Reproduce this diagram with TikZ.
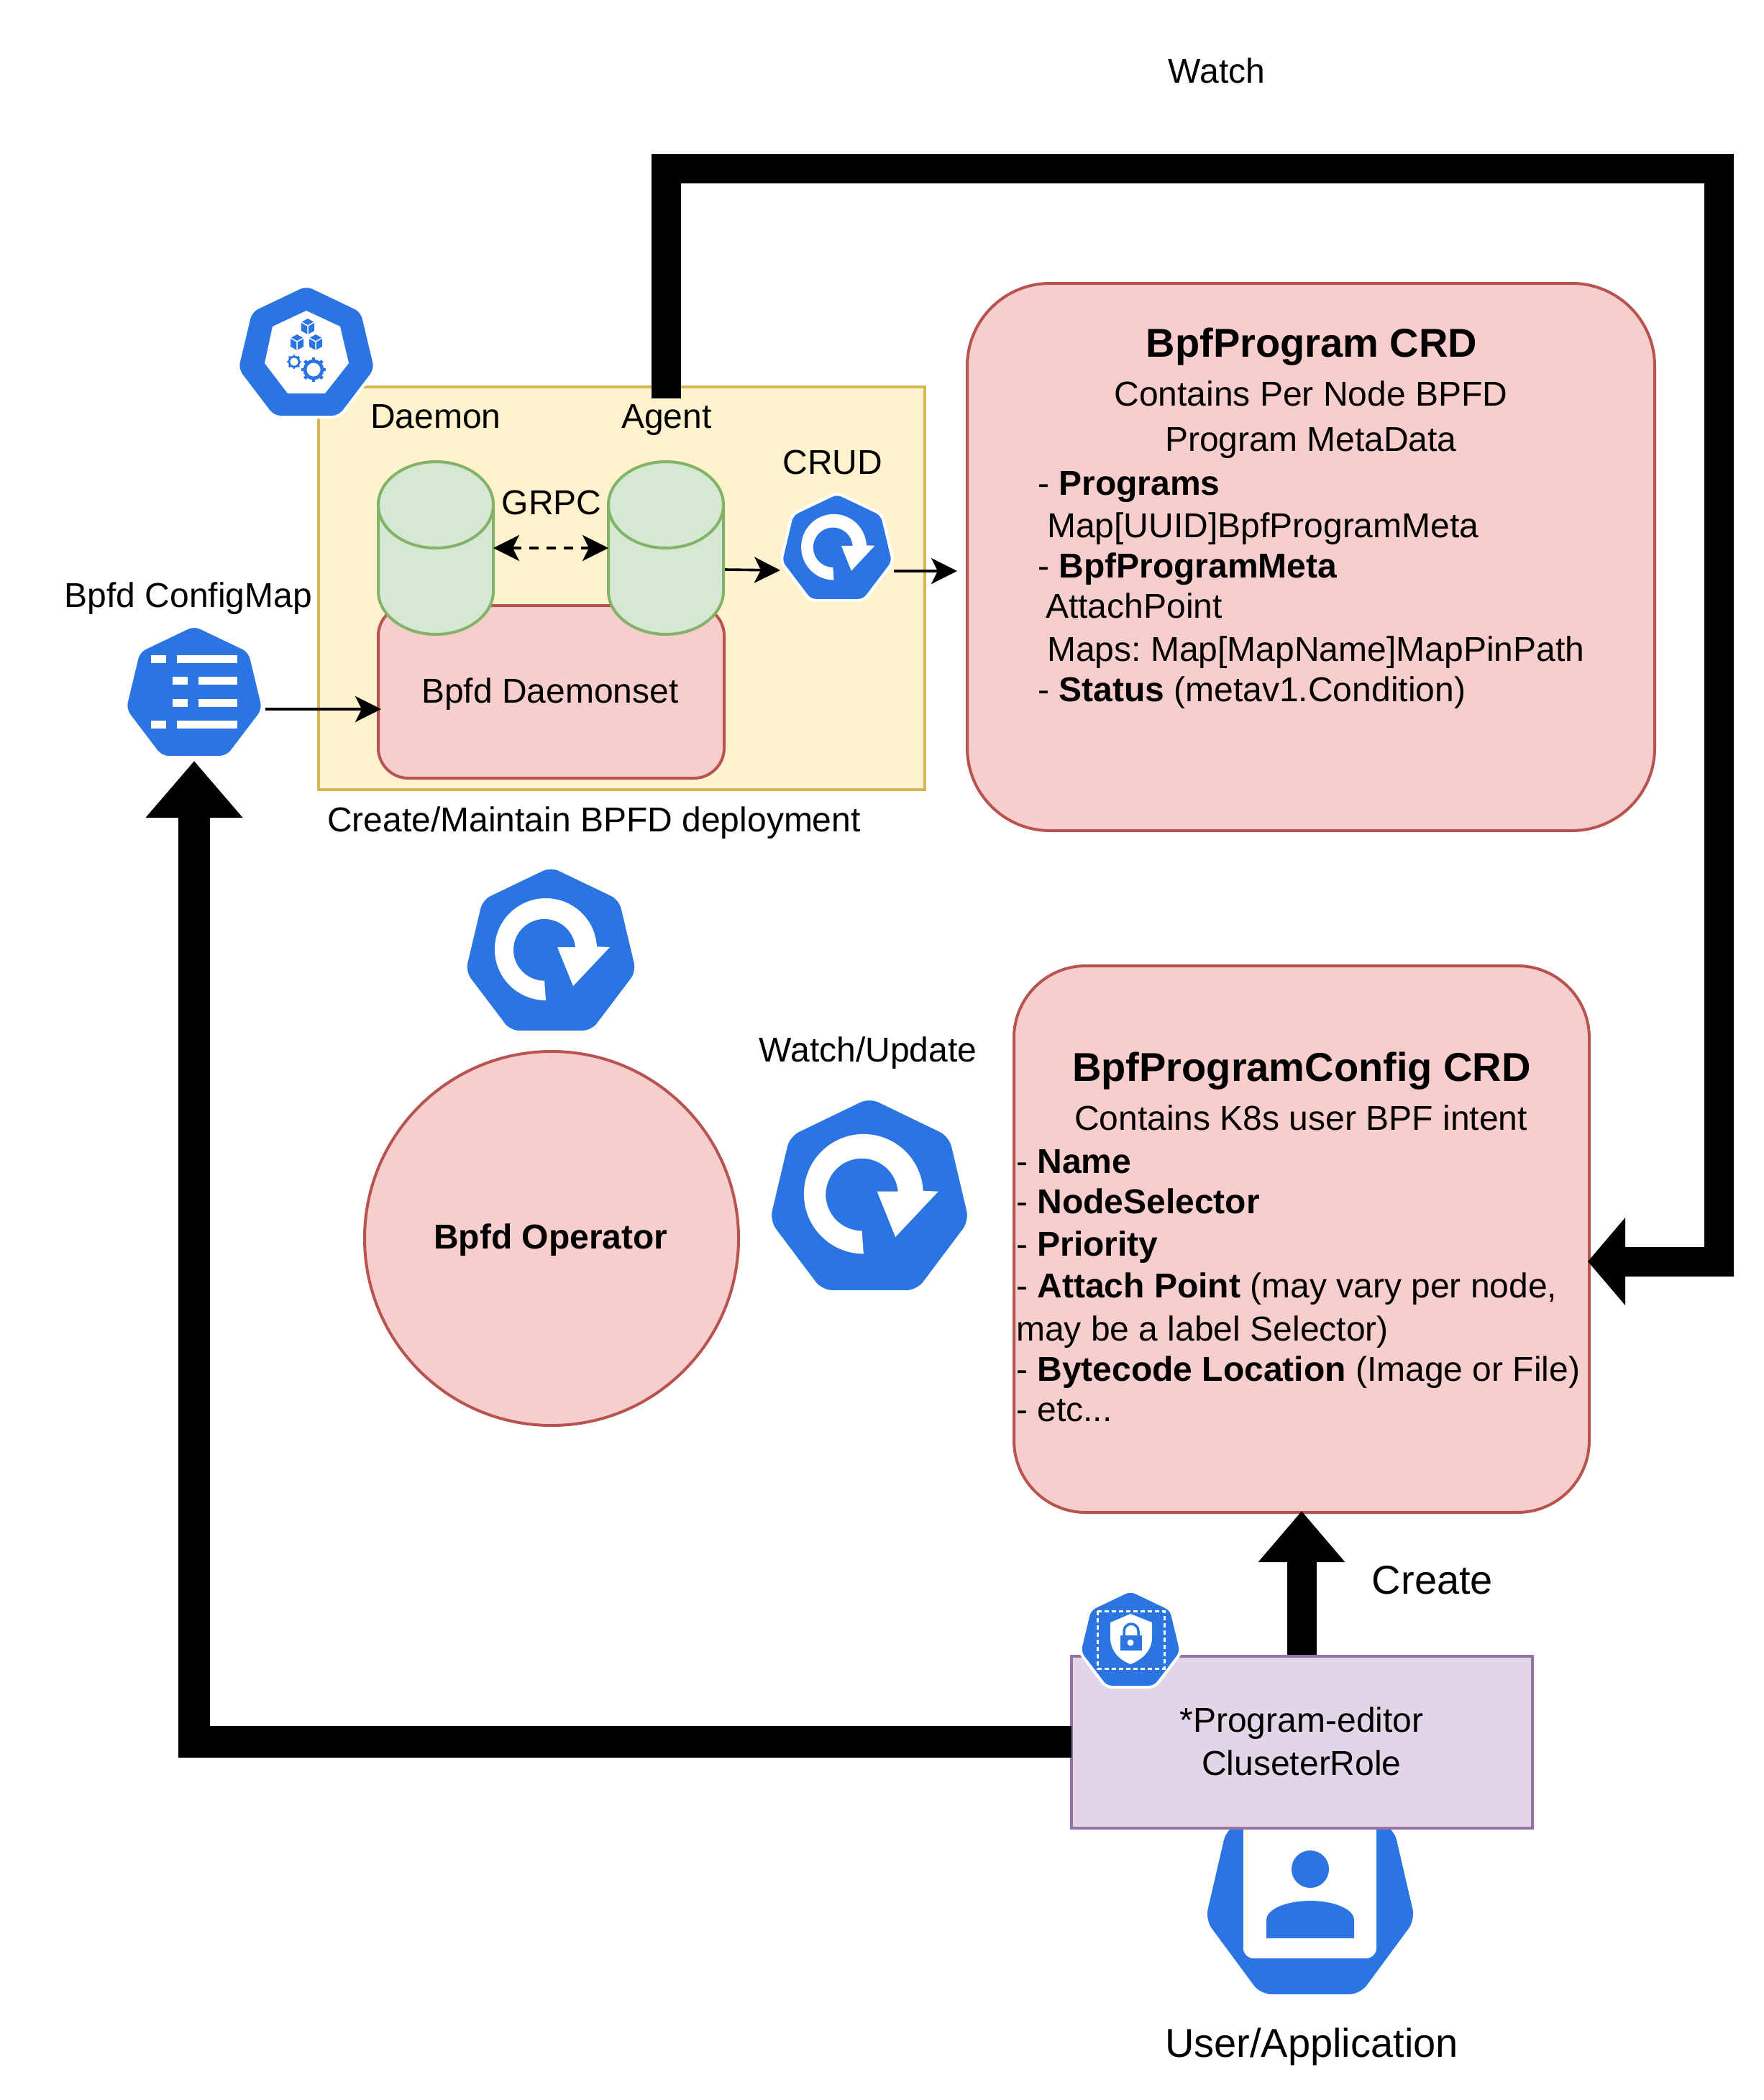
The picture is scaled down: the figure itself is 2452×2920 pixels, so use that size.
\documentclass[tikz,border=0pt]{standalone}
\usepackage{fontspec}
\setmainfont{Liberation Sans}
\usetikzlibrary{arrows.meta,calc}
\frenchspacing
\definecolor{kblue}{HTML}{2A75E2}
\definecolor{pinkfill}{HTML}{F8CECC}
\definecolor{pinkline}{HTML}{B85450}
\definecolor{yelfill}{HTML}{FFF2CC}
\definecolor{yelline}{HTML}{D6B656}
\definecolor{grnfill}{HTML}{D5E8D4}
\definecolor{grnline}{HTML}{82B366}
\definecolor{purfill}{HTML}{E1D5E7}
\definecolor{purline}{HTML}{9673A6}
\newcommand{\fsz}[1]{\fontsize{#1}{#1}\selectfont}
\tikzset{
  txt/.style={inner sep=0pt,anchor=mid,yshift=-12pt,font=\fsz{48}},
  ltxt/.style={inner sep=0pt,anchor=mid west,yshift=-12pt,font=\fsz{48}},
  bigtxt/.style={inner sep=0pt,anchor=mid,yshift=-14pt,font=\fsz{56}},
  headtxt/.style={bigtxt,font=\bfseries\fsz{56}},
  pinkbox/.style={draw=pinkline,fill=pinkfill,line width=4pt,inner sep=0pt,anchor=north west},
  ghost/.style={inner sep=0pt,outer sep=0pt},
  thin arrow/.style={line width=3.6pt,-{Stealth[length=36pt,width=36pt,inset=9pt]}},
  big arrow/.style={line join=miter,draw=black},
  heptfill/.style={fill=kblue,draw=white,line width=4pt},
}
% heptagon: centre x, top y, width, height, corner radius
\newcommand{\heptpath}{(0,-.025) -- (.42,.18) -- (.525,.63) -- (.25,1) -- (-.25,1) -- (-.525,.63) -- (-.42,.18) -- cycle}
\newcommand{\hept}[5]{%
  \begin{scope}[shift={(#1,#2)},x=#3pt,y=-#4pt]
    \path[heptfill,rounded corners=#5pt] \heptpath;
  \end{scope}}
% refresh glyph placed inside the heptagon
\newcommand{\refresh}[4]{%
  \begin{scope}[shift={(#1,#2)},x=#3pt,y=-#4pt]
    \fill[white] (-.03,.805) arc[start angle=90,end angle=357,x radius=.305,y radius=.314]
      -- (.352,.478) -- (.133,.717) -- (.039,.478) -- (.146,.478)
      arc[start angle=355,end angle=90,x radius=.185,y radius=.19] -- cycle;
  \end{scope}}
\newcommand{\cube}[2]{%
  \fill[kblue] (#1,#2-11) -- (#1+9,#2-6) -- (#1+9,#2+6) -- (#1,#2+11) -- (#1-9,#2+6) -- (#1-9,#2-6) -- cycle;
  \draw[white,line width=1.5pt] (#1-9,#2-6) -- (#1,#2-1) -- (#1+9,#2-6) (#1,#2-1) -- (#1,#2+11);}
\newcommand{\gearicon}[3]{%
  \draw[kblue,line width=#3*.4pt] (#1,#2) circle[radius=#3];
  \foreach \a in {0,45,...,315}{\draw[kblue,line width=#3*.36pt] ($(#1,#2)+(\a:#3)$) -- ($(#1,#2)+(\a:#3*1.45)$);}}
\begin{document}
\begin{tikzpicture}[x=1pt,y=-1pt]
\useasboundingbox[fill=white] (0,0) rectangle (2452,2920);

% Yellow area and daemonset
\node[ghost,draw=yelline,fill=yelfill,line width=4pt,minimum width=843pt,minimum height=560pt,anchor=north west] (area) at (443,538) {};
\node[pinkbox,rounded corners=42pt,minimum width=481pt,minimum height=240pt] (dset) at (524,840) {};
\node[txt] (dsetlab) at (765,963) {Bpfd Daemonset};

% Cylinders
\foreach \cx/\nm in {606/daemon,926/agent}{
  \node[ghost,minimum width=160pt,minimum height=240pt] (\nm) at (\cx,762) {};
  \draw[draw=grnline,fill=grnfill,line width=4pt]
    (\cx-80,702) -- (\cx-80,822) arc[start angle=180,end angle=0,x radius=80,y radius=60]
    -- (\cx+80,702) arc[start angle=0,end angle=-180,x radius=80,y radius=60] -- cycle;
  \draw[draw=grnline,line width=4pt] (\cx-80,702) arc[start angle=180,end angle=0,x radius=80,y radius=60];
}
\node[txt] (daemonlab) at (606,581) {Daemon};
\node[txt] (agentlab) at (927,581) {Agent};
\node[txt] (grpclab) at (767,701) {GRPC};
\node[txt] (crudlab) at (1158,645) {CRUD};
\draw[line width=3.6pt,dashed,dash pattern=on 13pt off 11pt,{Stealth[length=36pt,width=36pt,inset=9pt]}-{Stealth[length=36pt,width=36pt,inset=9pt]}] (daemon.east) -- (agent.west);

% Deployment icon (top left)
\node[ghost,minimum width=186pt,minimum height=180pt] (nsicon) at (426,490) {};
\hept{426}{400}{184}{180}{10}
\fill[white] (426,432) -- (473,454) -- (485,505) -- (452,547) -- (400,547) -- (368,505) -- (379,454) -- cycle;
\cube{428}{454}\cube{413}{476}\cube{439}{476}
\gearicon{409}{503}{7}
\gearicon{436}{514}{12}

% CRUD icon
\node[ghost,minimum width=151pt,minimum height=146pt] (crud) at (1164,762) {};
\hept{1164}{689}{149}{146}{8}
\refresh{1164}{689}{149}{146}

% ConfigMap icon
\node[ghost,minimum width=186pt,minimum height=178pt] (cfg) at (270,962) {};
\hept{270}{873}{184}{180}{10}
\foreach \yy/\sa/\sb/\ba in {911/210/231/246,941/240/261/276,972/240/261/276,1002/210/231/246}{
  \fill[white] (\sa,\yy) rectangle (\sb,\yy+11);
  \fill[white] (\ba,\yy) rectangle (330,\yy+11);
}
\node[txt] (cfglab) at (262,830) {Bpfd ConfigMap};

% Small connectors
\coordinate (agentout) at (1008,792);
\coordinate (crudin) at (1085,793);
\coordinate (crudout) at (1243,794);
\coordinate (crdin) at (1331,794);
\coordinate (cfgout) at (369,986);
\coordinate (dsetin) at (530,986);
\draw[thin arrow] (agentout) -- (crudin);
\draw[thin arrow] (crudout) -- (crdin);
\draw[thin arrow] (cfgout) -- (dsetin);

\node[txt] (arealab) at (826,1142) {Create/Maintain BPFD deployment};

% BpfProgram CRD box
\node[pinkbox,rounded corners=115pt,minimum width=956pt,minimum height=761pt] (crd) at (1343,392) {};
\node[headtxt] (t1) at (1824,480) {BpfProgram CRD};
\node[txt] (t2) at (1823,550) {Contains Per Node BPFD};
\node[txt] (t3) at (1823,613) {Program MetaData};
\node[ltxt] (t4) at (1443,674) {- \textbf{Programs}};
\node[ltxt] (t5) at (1456,733) {Map[UUID]BpfProgramMeta};
\node[ltxt] (t6) at (1443,789) {- \textbf{BpfProgramMeta}};
\node[ltxt] (t7) at (1454,845) {AttachPoint};
\node[ltxt] (t8) at (1456,905) {Maps: Map[MapName]MapPinPath};
\node[ltxt] (t9) at (1443,961) {- \textbf{Status} (metav1.Condition)};

% Operator
\node[ghost,minimum width=233pt,minimum height=226pt] (opicon) at (766,1322) {};
\hept{766}{1209}{230}{226}{13}
\refresh{766}{1209}{233}{226}
\node[draw=pinkline,fill=pinkfill,line width=4pt,circle,minimum size=520pt,inner sep=0pt] (op) at (767,1722) {};
\node[txt,font=\bfseries\fsz{48}] (oplab) at (766,1722) {Bpfd Operator};

% Watch/update icon
\node[txt] (wulab) at (1207,1462) {Watch/Update};
\node[ghost,minimum width=272pt,minimum height=266pt] (wuicon) at (1209,1661) {};
\hept{1209}{1531}{268}{265}{15}
\refresh{1209}{1530}{272}{265}

% Config CRD box
\node[pinkbox,rounded corners=100pt,minimum width=800pt,minimum height=760pt] (conf) at (1408,1341) {};
\node[headtxt] (c1) at (1810,1487) {BpfProgramConfig CRD};
\node[txt] (c2) at (1809,1557) {Contains K8s user BPF intent};
\node[ltxt] (c3) at (1413,1617) {- \textbf{Name}};
\node[ltxt] (c4) at (1413,1673) {- \textbf{NodeSelector}};
\node[ltxt] (c5) at (1413,1732) {- \textbf{Priority}};
\node[ltxt] (c6) at (1413,1790) {- \textbf{Attach Point} (may vary per node,};
\node[ltxt] (c7) at (1413,1850) {may be a label Selector)};
\node[ltxt] (c8) at (1413,1906) {- \textbf{Bytecode Location} (Image or File)};
\node[ltxt] (c9) at (1413,1962) {- etc...};

% User icon (under role box)
\node[ghost,minimum width=286pt,minimum height=284pt] (usericon) at (1822,2631) {};
\hept{1822}{2491}{282}{284}{16}
\fill[white,rounded corners=14pt] (1729,2500) rectangle (1914,2723);
\fill[kblue] (1822,2599) circle[radius=26];
\fill[kblue] (1761,2695) -- (1761,2670) .. controls (1761,2654) and (1790,2643) .. (1822,2643)
  .. controls (1854,2643) and (1883,2654) .. (1883,2670) -- (1883,2695) -- cycle;

% Role box
\node[ghost,draw=purline,fill=purfill,line width=4pt,minimum width=641pt,minimum height=239pt,anchor=north west] (role) at (1490,2303) {};
\node[txt] (r1) at (1810,2394) {*Program-editor};
\node[txt] (r2) at (1810,2454) {CluseterRole};

% Shield icon
\node[ghost,minimum width=137pt,minimum height=132pt] (rbac) at (1572,2280) {};
\hept{1572}{2214}{135}{132}{8}
\draw[white,line width=3pt,dash pattern=on 6pt off 4pt] (1526,2240) rectangle (1619,2320);
\fill[white] (1572,2244) -- (1602,2256) -- (1602,2277) .. controls (1602,2295) and (1588,2308) .. (1572,2314)
  .. controls (1556,2308) and (1544,2295) .. (1544,2277) -- (1544,2256) -- cycle;
\draw[kblue,line width=3.5pt] (1563,2276) -- (1563,2268) arc[start angle=180,end angle=360,x radius=10,y radius=10] -- (1583,2276);
\fill[kblue] (1558,2274) rectangle (1588,2295);
\fill[white] (1572,2284) circle[radius=4.5];

% Big arrows
\coordinate (agenttop) at (926,554);
\coordinate (watchA) at (926,234);
\coordinate (watchB) at (2390,234);
\coordinate (watchC) at (2390,1754);
\coordinate (confE) at (2208,1754);
\draw[big arrow,line width=41pt,-{Triangle[length=52pt,width=119pt]}] (agenttop) -- (watchA) -- (watchB) -- (watchC) -- (confE);
\coordinate (roleW) at (1490,2422);
\coordinate (leftA) at (270,2422);
\coordinate (cfgS) at (270,1058);
\draw[big arrow,line width=44pt,-{Triangle[length=79pt,width=130pt]}] (roleW) -- (leftA) -- (cfgS);
\coordinate (roleN) at (1810,2301);
\coordinate (confS) at (1810,2101);
\draw[big arrow,line width=41pt,-{Triangle[length=71pt,width=116pt]}] (roleN) -- (confS);

% Free labels
\node[txt] (watchlab) at (1692,101) {Watch};
\node[bigtxt] (createlab) at (1992,2200) {Create};
\node[bigtxt] (userlab) at (1824,2844) {User/Application};
\end{tikzpicture}
\end{document}
